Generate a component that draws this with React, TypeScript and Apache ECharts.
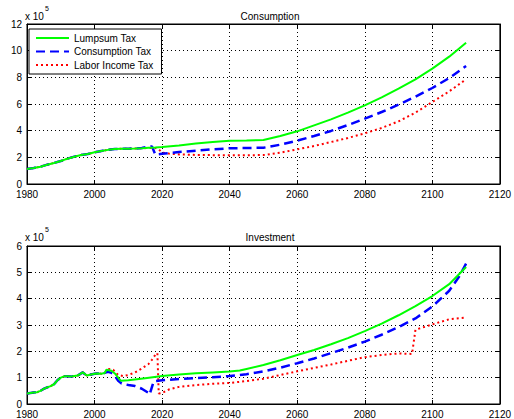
import { useEffect, useRef } from "react";
import * as echarts from "echarts";

const X_MIN = 1980;
const X_MAX = 2120;
const X_STEP = 20;

const seriesNames = ["Lumpsum Tax", "Consumption Tax", "Labor Income Tax"];

// Consumption (x 10^5)
const consLumpYears = [1980, 1982, 1984, 1986, 1988, 1990, 1992, 1994, 1996, 1998, 2000, 2002, 2004, 2006, 2008, 2010, 2012, 2014, 2016, 2018, 2020, 2025, 2030, 2035, 2040, 2045, 2050, 2055, 2060, 2065, 2070, 2075, 2080, 2085, 2090, 2095, 2100, 2105, 2110];
const consLumpVals = [1.12, 1.2, 1.3, 1.45, 1.58, 1.72, 1.9, 2.05, 2.18, 2.25, 2.38, 2.48, 2.56, 2.62, 2.65, 2.65, 2.66, 2.68, 2.72, 2.74, 2.77, 2.88, 3.03, 3.15, 3.25, 3.27, 3.3, 3.6, 3.95, 4.4, 4.85, 5.35, 5.9, 6.5, 7.15, 7.85, 8.65, 9.55, 10.6];

const consConsYears = [1980, 1982, 1984, 1986, 1988, 1990, 1992, 1994, 1996, 1998, 2000, 2002, 2004, 2006, 2008, 2010, 2012, 2014, 2016, 2017, 2018, 2020, 2025, 2030, 2035, 2040, 2045, 2050, 2055, 2060, 2065, 2070, 2075, 2080, 2085, 2090, 2095, 2100, 2105, 2110];
const consConsVals = [1.12, 1.2, 1.3, 1.45, 1.58, 1.72, 1.9, 2.05, 2.18, 2.25, 2.38, 2.48, 2.56, 2.62, 2.65, 2.65, 2.66, 2.7, 2.8, 2.82, 2.2, 2.27, 2.4, 2.5, 2.6, 2.68, 2.7, 2.72, 2.95, 3.25, 3.6, 3.98, 4.42, 4.9, 5.4, 5.95, 6.55, 7.2, 7.95, 8.85];

const consLaborYears = [1980, 1982, 1984, 1986, 1988, 1990, 1992, 1994, 1996, 1998, 2000, 2002, 2004, 2006, 2008, 2010, 2012, 2014, 2016, 2018, 2019, 2020, 2022, 2025, 2030, 2040, 2050, 2055, 2060, 2065, 2070, 2075, 2080, 2085, 2090, 2095, 2100, 2105, 2110];
const consLaborVals = [1.12, 1.2, 1.3, 1.45, 1.58, 1.72, 1.9, 2.05, 2.18, 2.25, 2.38, 2.48, 2.56, 2.62, 2.65, 2.65, 2.66, 2.68, 2.7, 2.7, 2.6, 2.35, 2.28, 2.22, 2.18, 2.15, 2.17, 2.35, 2.6, 2.85, 3.15, 3.45, 3.8, 4.2, 4.7, 5.35, 6.15, 6.95, 7.85];

// Investment (x 10^5)
const earlyInvYears = [1980, 1981, 1982, 1983, 1984, 1985, 1986, 1987, 1988, 1989, 1990, 1991, 1992, 1993, 1994, 1995, 1996.5, 1997.7, 1999, 2000, 2001, 2002, 2003];
const earlyInvVals = [0.4, 0.42, 0.44, 0.45, 0.5, 0.58, 0.63, 0.68, 0.75, 0.9, 1.0, 1.05, 1.05, 1.04, 1.06, 1.08, 1.2, 1.08, 1.12, 1.15, 1.16, 1.15, 1.18];

const invLumpYears = [2003.5, 2005, 2006, 2007, 2007.8, 2010, 2015, 2020, 2025, 2030, 2035, 2040, 2043, 2045, 2050, 2055, 2060, 2065, 2070, 2075, 2080, 2085, 2090, 2095, 2100, 2105, 2110];
const invLumpVals = [1.3, 1.26, 1.16, 1.0, 0.88, 0.9, 0.98, 1.06, 1.12, 1.17, 1.2, 1.23, 1.27, 1.33, 1.48, 1.66, 1.86, 2.05, 2.27, 2.5, 2.77, 3.05, 3.37, 3.72, 4.1, 4.55, 5.2];

const invConsYears = [2004, 2005, 2006, 2007, 2008, 2010, 2012, 2014, 2016, 2016.3, 2017.5, 2020, 2025, 2030, 2035, 2040, 2045, 2050, 2055, 2060, 2065, 2070, 2075, 2080, 2085, 2090, 2095, 2100, 2105, 2108, 2110.5];
const invConsVals = [1.22, 1.18, 1.08, 0.88, 0.78, 0.72, 0.68, 0.58, 0.42, 0.36, 0.86, 0.9, 0.95, 0.98, 1.02, 1.06, 1.13, 1.24, 1.38, 1.55, 1.73, 1.93, 2.14, 2.37, 2.63, 2.92, 3.25, 3.7, 4.3, 4.85, 5.45];

const invLaborYears = [2004.3, 2005.5, 2007, 2008.5, 2010, 2012, 2014, 2016, 2017, 2018, 2018.6, 2019, 2020, 2022, 2025, 2030, 2035, 2040, 2045, 2050, 2055, 2060, 2065, 2070, 2075, 2080, 2085, 2090, 2094, 2095, 2097, 2100, 2105, 2110];
const invLaborVals = [1.33, 1.3, 1.1, 1.06, 1.1, 1.2, 1.35, 1.52, 1.68, 1.87, 1.93, 0.4, 0.42, 0.55, 0.65, 0.72, 0.77, 0.8, 0.87, 0.96, 1.1, 1.24, 1.37, 1.5, 1.64, 1.78, 1.86, 1.92, 1.9, 2.82, 2.9, 3.02, 3.22, 3.28];

const consYTicks = { min: 0, max: 12, interval: 2 };
const invYTicks = { min: 0, max: 6, interval: 1 };

const FONT = "'Liberation Sans', Arial, Helvetica, sans-serif";

const zip = (xs: number[], ys: number[]) => xs.map((x, i) => [x, ys[i]]);

const styles = [
  { color: "#00ff00", width: 2, type: "solid" as any },
  { color: "#0000ff", width: 2.5, type: [9, 5] as any },
  { color: "#ff0000", width: 2, type: [2, 3] as any },
];

export default function App() {
  const ref = useRef<HTMLDivElement>(null);
  useEffect(() => {
    if (!ref.current) return;
    const chart = echarts.init(ref.current, null, { renderer: "svg" });

    const grids = [
      { left: 27, top: 24, width: 477, height: 160 },
      { left: 27, top: 246, width: 477, height: 158 },
    ];

    const mainX = (gi: number) => ({
      type: "value",
      gridIndex: gi,
      min: X_MIN,
      max: X_MAX,
      interval: X_STEP,
      position: "bottom",
      axisLine: { show: true, onZero: false, lineStyle: { color: "#000", width: 1 } },
      axisTick: { show: true, inside: true, length: 4, lineStyle: { color: "#000" } },
      axisLabel: { color: "#000", fontSize: 10, fontFamily: FONT, margin: 5, formatter: (v: number) => String(v) },
      splitLine: { show: true, lineStyle: { color: "#000", type: [1, 3], width: 1 } },
    });
    const topX = (gi: number) => ({
      type: "value",
      gridIndex: gi,
      min: X_MIN,
      max: X_MAX,
      interval: X_STEP,
      position: "top",
      axisLine: { show: true, onZero: false, lineStyle: { color: "#000", width: 1 } },
      axisTick: { show: true, inside: true, length: 4, lineStyle: { color: "#000" } },
      axisLabel: { show: false },
      splitLine: { show: false },
    });
    const mainY = (gi: number, t: any) => ({
      type: "value",
      gridIndex: gi,
      min: t.min,
      max: t.max,
      interval: t.interval,
      position: "left",
      axisLine: { show: true, onZero: false, lineStyle: { color: "#000", width: 1 } },
      axisTick: { show: true, inside: true, length: 4, lineStyle: { color: "#000" } },
      axisLabel: { color: "#000", fontSize: 10, fontFamily: FONT, margin: 5 },
      splitLine: { show: true, lineStyle: { color: "#000", type: [1, 3], width: 1 } },
    });
    const rightY = (gi: number, t: any) => ({
      type: "value",
      gridIndex: gi,
      min: t.min,
      max: t.max,
      interval: t.interval,
      position: "right",
      axisLine: { show: true, onZero: false, lineStyle: { color: "#000", width: 1 } },
      axisTick: { show: true, inside: true, length: 4, lineStyle: { color: "#000" } },
      axisLabel: { show: false },
      splitLine: { show: false },
    });

    const mk = (name: string, idx: number, gi: number, data: number[][]) => ({
      type: "line",
      name,
      xAxisIndex: gi,
      yAxisIndex: gi,
      data,
      showSymbol: false,
      symbol: "none",
      lineStyle: { ...styles[idx] },
      itemStyle: { color: styles[idx].color },
      z: 10 - idx,
    });

    const consSeries = [
      mk(seriesNames[0], 0, 0, zip(consLumpYears, consLumpVals)),
      mk(seriesNames[1], 1, 0, zip(consConsYears, consConsVals)),
      mk(seriesNames[2], 2, 0, zip(consLaborYears, consLaborVals)),
    ];
    const invSeries = [
      mk(seriesNames[0], 0, 1, zip(earlyInvYears.concat(invLumpYears), earlyInvVals.concat(invLumpVals))),
      mk(seriesNames[1], 1, 1, zip(earlyInvYears.concat(invConsYears), earlyInvVals.concat(invConsVals))),
      mk(seriesNames[2], 2, 1, zip(earlyInvYears.concat(invLaborYears), earlyInvVals.concat(invLaborVals))),
    ];

    const expText = (y: number) => [
      { type: "text", left: 25, top: y, style: { text: "x 10", fontSize: 10, fontFamily: FONT, fill: "#000" } },
      { type: "text", left: 45, top: y - 6, style: { text: "5", fontSize: 7, fontFamily: FONT, fill: "#000" } },
    ];

    chart.setOption({
      animation: false,
      backgroundColor: "#fff",
      title: [
        { text: "Consumption", left: 265, top: 6, textAlign: "center", textStyle: { fontSize: 10, fontWeight: "normal", color: "#000", fontFamily: FONT } },
        { text: "Investment", left: 265, top: 227, textAlign: "center", textStyle: { fontSize: 10, fontWeight: "normal", color: "#000", fontFamily: FONT } },
      ],
      legend: {
        show: true,
        orient: "vertical",
        left: 29,
        top: 29,
        data: seriesNames,
        itemWidth: 33,
        itemHeight: 10,
        itemGap: 3.5,
        padding: [4, 8, 4, 6],
        backgroundColor: "#fff",
        borderColor: "#000",
        borderWidth: 1,
        itemStyle: { opacity: 0 },
        textStyle: { fontSize: 10, color: "#000", fontFamily: FONT },
        selectedMode: false,
      },
      grid: grids.map((g) => ({ ...g, show: true, borderColor: "#000", borderWidth: 1, backgroundColor: "#fff" })),
      xAxis: [mainX(0), mainX(1), topX(0), topX(1)],
      yAxis: [mainY(0, consYTicks), mainY(1, invYTicks), rightY(0, consYTicks), rightY(1, invYTicks)],
      graphic: [...expText(11), ...expText(232)],
      series: [...consSeries, ...invSeries],
    });
    return () => chart.dispose();
  }, []);
  return <div ref={ref} style={{ width: 514, height: 419, position: "absolute", left: 0, top: 0 }} />;
}
